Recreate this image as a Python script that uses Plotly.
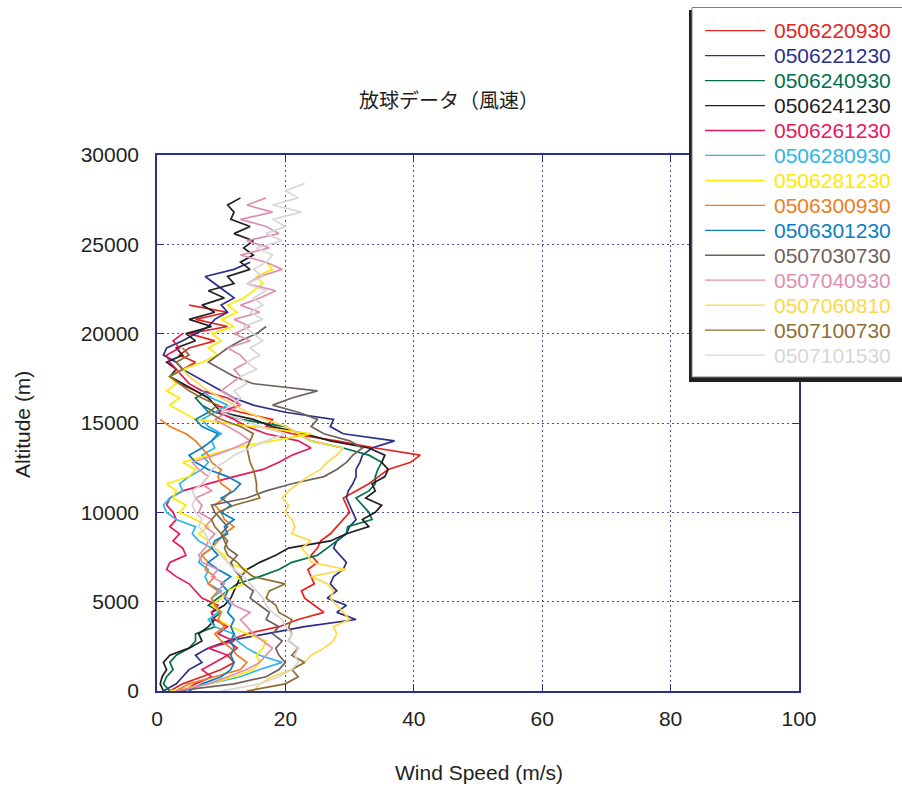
import plotly.graph_objects as go

# Sounding levels (m)
ALT = [0, 400, 800, 1200, 1600, 2000, 2400, 2800, 3200, 3600,
       4000, 4400, 4800, 5200, 5600, 6000, 6400, 6800, 7200, 7600,
       8000, 8400, 8800, 9200, 9600, 10000, 10400, 10800, 11200, 11600,
       12000, 12400, 12800, 13200, 13600, 14000, 14400, 14800, 15200, 15600,
       16000, 16400, 16800, 17200, 17600, 18000, 18400, 18800, 19200, 19600,
       20000, 20400, 20800, 21200, 21600, 22000, 22400, 22800, 23200, 23600,
       24000, 24400, 24800, 25200, 25600, 26000, 26400, 26800, 27200, 27600,
       28000, 28400]

# Wind speed (m/s) per launch, from the ground upward
ws_0506220930 = [2, 4, 7, 10, 12, 11, 12.5, 11, 14, 19,
                 22, 26, 24.5, 23, 22.5, 24.5, 24, 23.5, 25, 24,
                 25, 25.5, 27, 28, 29, 30, 29.5, 29, 31, 33,
                 34.5, 36, 39.5, 41, 34, 28, 21, 17, 18, 13,
                 9, 8, 6, 3.5, 2, 4, 6, 3.5, 5, 9,
                 5, 11, 6, 11, 5]
ws_0506221230 = [1, 3, 4, 5, 7, 6, 8, 11, 17, 23,
                 31, 28, 29.5, 26.5, 28, 27, 27.5, 29, 29.5, 28.5,
                 27.5, 28, 29.5, 30, 31, 30.5, 30, 29.5, 29.8, 30.5,
                 31, 31, 31.6, 32, 33.5, 37, 29, 27, 27.5, 20,
                 15, 12, 10, 8, 6, 4, 3, 1, 1.5, 4,
                 6, 8, 9, 11, 10, 12, 10.5, 9, 7.5, 12,
                 14.5]
ws_0506240930 = [2, 1, 1.5, 2.5, 2, 3, 5, 6, 6, 9,
                 8.5, 10, 8, 9.5, 11, 12.5, 16, 19, 21, 25,
                 26.5, 28, 29.5, 29.7, 33.5, 33, 32, 31, 33, 34,
                 34, 34.4, 35, 33, 29, 24, 22, 20, 13, 9,
                 7, 6, 8]
ws_0506241230 = [1, 0.5, 0.8, 1.5, 1, 2, 5, 7, 6.5, 8,
                 9, 8.5, 10.5, 11.5, 12, 12.5, 13, 14, 16, 18.5,
                 20.5, 27, 29.5, 33, 32, 34, 35, 32.5, 34, 33.5,
                 35.5, 36, 35, 35.5, 33, 27, 23, 18, 15, 10,
                 9, 8, 6, 4, 2, 3, 1.5, 4, 3, 6,
                 4.5, 8.5, 5, 9, 7, 10.5, 8, 12, 11, 14.5,
                 13, 15, 13.5, 15, 12, 14.5, 11.5, 12, 11, 13]
ws_0506261230 = [4, 6, 8.5, 7, 9, 11, 8, 12, 9.5, 11,
                 9, 8.5, 9.5, 7, 6, 5, 3, 1.5, 2, 4.5,
                 4, 2.5, 3.5, 2, 3, 2.5, 1.5, 2, 4, 8,
                 12, 16.5, 19, 21, 24, 22, 17, 14, 12, 9.5,
                 13, 11, 7, 5, 4, 3, 2, 1.5, 3.5, 2.5,
                 4]
ws_0506280930 = [3, 8, 13, 16, 19.5, 16, 14, 12.5, 12, 9,
                 8, 9.5, 9, 8.5, 10, 8, 7.5, 8, 6.5, 7,
                 8.5, 6.5, 5.5, 6, 3, 1.5, 1, 2, 4, 3.5,
                 5, 7, 8, 7, 9, 8.5, 10, 8, 7, 9,
                 11, 8.5, 7]
ws_0506281230 = [2, 8, 12, 15, 16, 15.5, 16.5, 17, 14, 11.5,
                 9.5, 10, 8.5, 10, 11, 13.5, 12.5, 14, 11, 10.5,
                 9, 8, 6.5, 8, 6, 3.5, 4.5, 2.5, 3, 1.5,
                 5, 6, 4, 8, 12, 18, 24, 15, 6, 4,
                 2, 3.5, 1.5, 3, 2, 4, 7, 9.5, 8, 10,
                 8.5, 12, 10, 12.5, 11, 13.5, 15, 16.5, 15.5, 18,
                 17]
ws_0506300930 = [3, 5, 9, 13, 14, 12.5, 11.5, 10, 9, 10.5,
                 9.5, 10, 9, 8.5, 9.5, 8, 9, 7.5, 8, 7,
                 8.5, 9.5, 10.5, 12, 10.5, 10, 9, 10.5, 11.5, 10,
                 9.5, 10, 8.5, 8, 7, 6, 4.5, 2, 0.5]
ws_0506301230 = [5, 7, 10, 11.5, 12, 11.5, 12, 11.5, 12, 11.5,
                 12, 11, 11.5, 10.5, 11, 10, 11.5, 9.5, 8, 9.5,
                 8.5, 9, 11, 10.5, 12, 10, 11.5, 10, 12, 13,
                 11, 8, 6, 5, 7, 8.5, 9.5, 7, 6, 8,
                 7]
ws_0507030730 = [3, 12, 17, 19, 20, 19, 18.5, 19.5, 18, 19,
                 17, 17.5, 16, 14.5, 15, 13.5, 13, 12, 11.5, 12.5,
                 11, 10.5, 10, 11, 10, 9, 8.5, 14, 17, 21,
                 26, 28, 29.5, 30.5, 32, 30, 26, 24, 25, 22,
                 18, 21, 25, 15, 12, 10, 8, 9.5, 11, 13,
                 15.5, 17]
ws_0507040930 = [3, 8, 11, 14, 16, 17, 18, 16.5, 15, 14,
                 13, 14.5, 12, 11, 9.5, 10.5, 8.5, 9.5, 7, 6.5,
                 7.5, 8, 9, 7.5, 8.5, 6.5, 7, 6, 8.5, 7,
                 8, 6.5, 5.5, 9, 12, 14.5, 13, 11, 9, 11,
                 13, 12, 10, 11.5, 13, 12, 14, 13, 11, 14.5,
                 12, 14.5, 12, 16, 13, 16, 18.5, 14, 16, 19.5,
                 17, 13, 17.5, 14, 19, 17, 13, 18, 14, 17]
ws_0507060810 = [15, 16, 18, 21, 23, 24, 26, 27.5, 28, 27.5,
                 30, 29, 28, 27, 27.5, 26.5, 24, 29.5, 24, 23.5,
                 22.5, 24, 21, 21.5, 21, 20, 20.5, 19.5, 20.5, 22,
                 23.5, 25.5, 26.5, 28, 29, 24, 22, 20, 17, 14,
                 12, 10, 8, 6.5, 5, 4]
ws_0507100730 = [14, 20, 22, 21, 23, 21, 22, 20.5, 21, 20.5,
                 21, 19, 18.5, 17, 17.5, 20, 15, 13.5, 12.5, 11,
                 10.5, 11, 10, 9, 8.5, 9.5, 12, 16, 15.5, 15.5,
                 15.3, 15, 14.5, 14.3, 14, 14.5, 15, 13, 10, 8,
                 9.5, 7, 5, 3.5, 2, 4, 3, 5, 4]
ws_0507101530 = [10, 16, 19, 21, 22, 21.5, 22, 20.5, 21, 20,
                 19.5, 18, 17, 16.5, 15.5, 14.5, 13.5, 12, 11, 10,
                 9, 8, 7.5, 6.5, 7, 6, 5.5, 6, 5.5, 7,
                 8, 8.5, 10.5, 12, 14.5, 17, 20, 16, 13, 10,
                 11.5, 13, 12, 14, 13, 15.5, 14, 16, 14.5, 16.5,
                 15, 13.5, 16.5, 14.5, 16.5, 15, 17, 14, 16.5, 15,
                 17, 18, 15.5, 19.5, 17, 20, 18, 22.5, 18, 22,
                 20, 23]

NAMES = ["0506220930", "0506221230", "0506240930", "0506241230",
         "0506261230", "0506280930", "0506281230", "0506300930",
         "0506301230", "0507030730", "0507040930", "0507060810",
         "0507100730", "0507101530"]
SPEEDS = [ws_0506220930, ws_0506221230, ws_0506240930, ws_0506241230,
          ws_0506261230, ws_0506280930, ws_0506281230, ws_0506300930,
          ws_0506301230, ws_0507030730, ws_0507040930, ws_0507060810,
          ws_0507100730, ws_0507101530]
COLORS = ["#e52421", "#2b3087", "#00704c", "#231f20",
          "#e6185b", "#2fb5e6", "#ffe900", "#ee7d22",
          "#0a7fc1", "#6e625a", "#e08fb0", "#fdd84a",
          "#8e6e32", "#d9d6d6"]

W, H = 902, 789
L, R, T, B = 157, 103, 155, 98
PW, PH = W - L - R, H - T - B
NAVY = "#2b2f86"
TEXT = "#231f20"
FONT = "Liberation Sans, Arial, sans-serif"


def px(xp):
    return (xp - L) / PW


def py(yp):
    return (H - B - yp) / PH


fig = go.Figure()
for name, ws, col in zip(NAMES, SPEEDS, COLORS):
    fig.add_trace(go.Scatter(
        x=ws, y=ALT[:len(ws)], mode="lines", name=name,
        line=dict(color=col, width=1.7), showlegend=False))

axis_common = dict(
    showline=True, linecolor=NAVY, linewidth=1.5, mirror="ticks",
    ticks="inside", ticklen=7, tickcolor=NAVY, tickwidth=1,
    showgrid=True, gridcolor="#4a52a0", gridwidth=1.2,
    griddash="2px,3px", zeroline=False,
    tickfont=dict(family=FONT, size=21, color=TEXT),
)
fig.update_xaxes(range=[0, 100], tickvals=[0, 20, 40, 60, 80, 100],
                 ticklabelstandoff=8, **axis_common)
fig.update_yaxes(range=[0, 30000], tickvals=[0, 5000, 10000, 15000, 20000, 25000, 30000],
                 tickformat="d", ticklabelstandoff=12, **axis_common)

shapes = []
annotations = []

# legend panel with drop shadow
shapes.append(dict(type="rect", xref="paper", yref="paper",
                   x0=px(689), x1=px(904), y0=py(382), y1=py(10),
                   fillcolor="#231f20", line=dict(width=0), layer="above"))
shapes.append(dict(type="rect", xref="paper", yref="paper",
                   x0=px(692), x1=px(906), y0=py(377), y1=py(7.5),
                   fillcolor="white", line=dict(color="#808080", width=1), layer="above"))
for i, (name, col) in enumerate(zip(NAMES, COLORS)):
    yy = 30.7 + 24.95 * i
    shapes.append(dict(type="line", xref="paper", yref="paper",
                       x0=px(705), x1=px(765), y0=py(yy), y1=py(yy),
                       line=dict(color=col, width=1.3), layer="above"))
    annotations.append(dict(xref="paper", yref="paper", x=px(772), y=py(yy),
                            xanchor="left", yanchor="middle", showarrow=False,
                            text=name, font=dict(family=FONT, size=21, color=col)))

annotations.append(dict(xref="paper", yref="paper", x=px(449), y=py(100),
                        xanchor="center", yanchor="middle", showarrow=False,
                        text="放球データ（風速）",
                        font=dict(family="Noto Sans CJK JP, sans-serif", size=20, color=TEXT)))
annotations.append(dict(xref="paper", yref="paper", x=px(479), y=py(772),
                        xanchor="center", yanchor="middle", showarrow=False,
                        text="Wind Speed (m/s)",
                        font=dict(family=FONT, size=21, color=TEXT)))
annotations.append(dict(xref="paper", yref="paper", x=px(22), y=py(425),
                        xanchor="center", yanchor="middle", showarrow=False,
                        text="Altitude (m)", textangle=-90,
                        font=dict(family=FONT, size=21, color=TEXT)))

fig.update_layout(
    width=W, height=H,
    margin=dict(l=L, r=R, t=T, b=B),
    paper_bgcolor="white", plot_bgcolor="white",
    shapes=shapes, annotations=annotations,
    showlegend=False,
)

fig.write_html("out.html")
